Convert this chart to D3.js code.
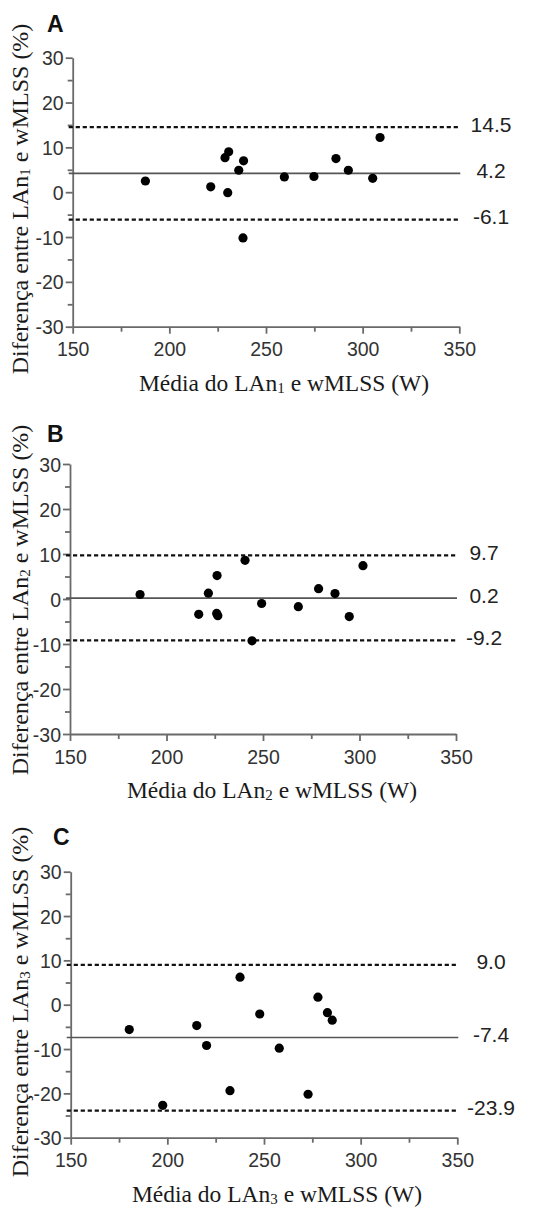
<!DOCTYPE html>
<html>
<head>
<meta charset="utf-8">
<script src="https://cdn.jsdelivr.net/npm/d3@7"></script>
<style>
  html, body { margin: 0; padding: 0; background: #fff; }
  svg { display: block; }
</style>
</head>
<body>
<svg id="chart" width="545" height="1208"></svg>
<script>
// ---------- DATA ----------
const panelLetters = ["A", "B", "C"];
const subscripts = ["1", "2", "3"];
const xTickValues = [150, 200, 250, 300, 350];
const xMinorValues = [175, 225, 275, 325];
const yTickValues = [30, 20, 10, 0, -10, -20, -30];
const yMinorValues = [25, 15, 5, -5, -15, -25];

// Panel A: mean of LAn1 and wMLSS (W), difference (%)
const meanA = [187.6, 221.4, 228.8, 230.7, 230.2, 235.9, 238.4, 238.1, 259.5, 274.8, 286.2, 292.6, 305.2, 309.0];
const diffA = [2.5, 1.2, 7.7, 9.0, -0.1, 4.9, 7.0, -10.2, 3.4, 3.5, 7.5, 4.9, 3.1, 12.2];
const biasA = 4.2, upperA = 14.5, lowerA = -6.1;

// Panel B
const meanB = [186.3, 216.7, 221.7, 226.2, 226.0, 226.6, 240.7, 244.3, 249.3, 268.3, 278.8, 287.3, 294.7, 301.8];
const diffB = [1.0, -3.4, 1.3, 5.2, -3.2, -3.7, 8.6, -9.3, -1.0, -1.7, 2.3, 1.2, -3.9, 7.4];
const biasB = 0.2, upperB = 9.7, lowerB = -9.2;

// Panel C
const meanC = [180.3, 197.6, 215.2, 220.3, 232.4, 237.6, 247.8, 257.9, 272.8, 277.9, 282.8, 285.3];
const diffC = [-5.6, -22.7, -4.7, -9.2, -19.4, 6.2, -2.1, -9.8, -20.2, 1.7, -1.8, -3.5];
const biasC = -7.4, upperC = 9.0, lowerC = -23.9;

const limitLabels = [["14.5", "4.2", "-6.1"], ["9.7", "0.2", "-9.2"], ["9.0", "-7.4", "-23.9"]];

const xDomain = [150, 350];
const yDomain = [-30, 30];

// ---------- LAYOUT ----------
const layout = [
  { xL: 72.7, xR: 459.3, yT: 57.7, yB: 326.7, letterX: 47, letterY: 32, annX: 491, xLabX: 284, yLabY: 199 },
  { xL: 70.0, xR: 456.0, yT: 464.0, yB: 734.0, letterX: 47, letterY: 442, annX: 484, xLabX: 272, yLabY: 600 },
  { xL: 70.7, xR: 457.3, yT: 871.7, yB: 1137.7, letterX: 53, letterY: 845, annX: 491, xLabX: 277, yLabY: 1002 }
];

const panels = [
  { mean: meanA, diff: diffA, bias: biasA, upper: upperA, lower: lowerA },
  { mean: meanB, diff: diffB, bias: biasB, upper: upperB, lower: lowerB },
  { mean: meanC, diff: diffC, bias: biasC, upper: upperC, lower: lowerC }
];

const svg = d3.select("#chart");
const sans = "'Liberation Sans', Arial, Helvetica, sans-serif";
const serif = "'Liberation Serif', 'Times New Roman', Times, serif";
const axisColor = "#6a6a6a";

panels.forEach((p, i) => {
  const L = layout[i];
  const x = d3.scaleLinear().domain(xDomain).range([L.xL, L.xR]);
  const y = d3.scaleLinear().domain(yDomain).range([L.yB, L.yT]);
  const g = svg.append("g");

  // minor ticks
  g.append("g").attr("transform", `translate(0,${L.yB})`)
    .call(d3.axisBottom(x).tickValues(xMinorValues).tickSize(5).tickSizeOuter(0).tickFormat(""))
    .call(a => a.select(".domain").remove());
  g.append("g").attr("transform", `translate(${L.xL},0)`)
    .call(d3.axisLeft(y).tickValues(yMinorValues).tickSize(5).tickSizeOuter(0).tickFormat(""))
    .call(a => a.select(".domain").remove());

  // major axes
  const xa = g.append("g").attr("transform", `translate(0,${L.yB})`)
    .call(d3.axisBottom(x).tickValues(xTickValues).tickSize(7).tickSizeOuter(0).tickPadding(4).tickFormat(d => String(d)));
  const ya = g.append("g").attr("transform", `translate(${L.xL},0)`)
    .call(d3.axisLeft(y).tickValues(yTickValues).tickSize(7).tickSizeOuter(0).tickPadding(2).tickFormat(d => String(d)));

  g.selectAll(".domain, .tick line").attr("stroke", axisColor).attr("stroke-width", 1.8);
  [xa, ya].forEach(a => a.selectAll("text")
    .attr("fill", "#333").style("font-family", sans).style("font-size", "19.5px"));
  xa.selectAll("text").attr("dy", "0.95em");
  ya.selectAll("text").attr("dy", "0.36em");

  // limit lines
  const lines = [
    { v: p.upper, dash: true, lab: limitLabels[i][0] },
    { v: p.bias, dash: false, lab: limitLabels[i][1] },
    { v: p.lower, dash: true, lab: limitLabels[i][2] }
  ];
  lines.forEach(l => {
    g.append("line")
      .attr("x1", L.xL - 4).attr("x2", L.xR + 1)
      .attr("y1", y(l.v)).attr("y2", y(l.v))
      .attr("stroke", l.dash ? "#111" : "#555")
      .attr("stroke-width", l.dash ? 2.2 : 1.6)
      .attr("stroke-dasharray", l.dash ? "4.2,2.8" : null);
    g.append("text")
      .attr("x", L.annX).attr("y", y(l.v) - 3)
      .attr("text-anchor", "middle").attr("dominant-baseline", "central")
      .attr("fill", "#222").style("font-family", sans).style("font-size", "21px")
      .text(l.lab);
  });

  // points
  g.selectAll("circle.pt").data(p.mean.map((m, k) => [m, p.diff[k]]))
    .enter().append("circle").attr("class", "pt")
    .attr("cx", d => x(d[0])).attr("cy", d => y(d[1])).attr("r", 4.6)
    .attr("fill", "#000");

  // panel letter
  g.append("text").attr("x", L.letterX).attr("y", L.letterY)
    .attr("fill", "#111").style("font-family", sans).style("font-weight", "bold").style("font-size", "23px")
    .text(panelLetters[i]);

  // x label
  const xl = g.append("text").attr("x", L.xLabX).attr("y", L.yB + 64)
    .attr("text-anchor", "middle").attr("fill", "#1a1a1a")
    .style("font-family", serif).style("font-size", "23.5px");
  xl.append("tspan").text("Média do LAn");
  xl.append("tspan").attr("font-size", "15px").attr("dy", 2).text(subscripts[i]);
  xl.append("tspan").attr("dy", -2).text(" e wMLSS (W)");

  // y label
  const yl = g.append("text")
    .attr("transform", `translate(28,${L.yLabY}) rotate(-90)`)
    .attr("text-anchor", "middle").attr("fill", "#1a1a1a")
    .style("font-family", serif).style("font-size", "24px");
  yl.append("tspan").text("Diferença entre LAn");
  yl.append("tspan").attr("font-size", "15px").attr("dy", 2).text(subscripts[i]);
  yl.append("tspan").attr("dy", -2).text(" e wMLSS (%)");
});
</script>
</body>
</html>
